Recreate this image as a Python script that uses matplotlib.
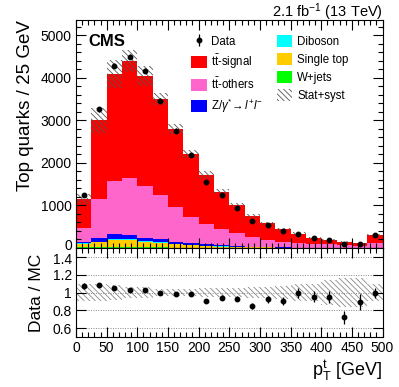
import numpy as np
import matplotlib
matplotlib.use("Agg")
import matplotlib.pyplot as plt
from matplotlib.patches import Patch
from matplotlib.ticker import MultipleLocator, FixedLocator
from matplotlib.transforms import ScaledTranslation

plt.rcParams['font.family'] = ['Liberation Sans', 'DejaVu Sans']
plt.rcParams['mathtext.fontset'] = 'custom'
plt.rcParams['mathtext.rm'] = 'Liberation Sans'
plt.rcParams['mathtext.it'] = 'Liberation Sans:italic'
plt.rcParams['mathtext.bf'] = 'Liberation Sans:bold'
plt.rcParams['hatch.linewidth'] = 0.6

# ---- data ----
bin_edges = list(range(0, 525, 25))
w_jets     = [35, 30, 25, 22, 18, 14, 10, 8, 6, 5, 4, 3, 2, 2, 1, 1, 1, 1, 0.5, 1]
single_top = [70, 110, 170, 175, 130, 115, 85, 55, 40, 30, 20, 15, 10, 8, 5, 4, 3, 2, 2, 4]
diboson    = [5, 10, 15, 15, 12, 10, 8, 6, 5, 4, 3, 2, 2, 1, 1, 1, 1, 0.5, 0.5, 1]
z_gamma    = [30, 90, 130, 100, 75, 80, 40, 50, 40, 30, 20, 12, 8, 5, 4, 3, 2, 2, 1, 3]
tt_others  = [338, 913, 1236, 1323, 1219, 1038, 822, 618, 474, 385, 311, 234, 166, 135, 115, 92, 80, 60, 47, 120]
tt_signal  = [675, 1847, 2518, 2760, 2588, 2243, 1828, 1475, 1153, 871, 646, 494, 392, 289, 212, 143, 103, 76, 60, 176]
data       = [1235, 3265, 4290, 4500, 4170, 3465, 2760, 2175, 1555, 1250, 935, 643, 535, 400, 335, 232, 180, 102, 99, 303]
rel_unc    = [0.10, 0.10, 0.08, 0.06, 0.06, 0.04, 0.04, 0.04, 0.05, 0.05, 0.05, 0.06, 0.06, 0.07, 0.09, 0.10, 0.14, 0.16, 0.16, 0.10]

colors = {
    'tt_signal': '#FF0000',
    'tt_others': '#FF66CC',
    'z_gamma': '#0000FF',
    'diboson': '#00FFFF',
    'single_top': '#FFCC00',
    'w_jets': '#00FF00',
}
HATCH = '\\' * 6
HCOL = '#555555'

edges = np.array(bin_edges, dtype=float)
left = edges[:-1]
width = np.diff(edges)
centers = left + width / 2

fig = plt.figure(figsize=(3.99, 3.87), dpi=100)
ax = fig.add_axes([76/399, 1-248/387, (382.5-76)/399, 228/387])
rax = fig.add_axes([76/399, 1-337/387, (382.5-76)/399, 89/387])

stack = [
    (w_jets, 'w_jets'),
    (single_top, 'single_top'),
    (diboson, 'diboson'),
    (z_gamma, 'z_gamma'),
    (tt_others, 'tt_others'),
    (tt_signal, 'tt_signal'),
]
bottom = np.zeros(len(left))
for vals, key in stack:
    v = np.array(vals, dtype=float)
    ax.bar(left, v, width=width, bottom=bottom, align='edge',
           color=colors[key], linewidth=0)
    bottom = bottom + v
total = bottom
unc = np.array(rel_unc)

ax.bar(left, 2*total*unc, width=width, bottom=total*(1-unc), align='edge',
       fill=False, hatch=HATCH, edgecolor=HCOL, linewidth=0)

d = np.array(data, dtype=float)
derr = np.sqrt(d)
data_handle = ax.errorbar(centers, d, yerr=derr, fmt='o', color='black', ms=3.2,
                          elinewidth=0.9, capsize=0)

ax.set_xlim(0, 500)
ax.set_ylim(0, 5360)
ax.yaxis.set_major_locator(FixedLocator([0, 1000, 2000, 3000, 4000, 5000]))
ax.yaxis.set_minor_locator(MultipleLocator(200))
ax.xaxis.set_major_locator(MultipleLocator(50))
ax.xaxis.set_minor_locator(MultipleLocator(10))
ax.tick_params(axis='x', labelbottom=False)

for a in (ax, rax):
    a.tick_params(which='both', direction='in', top=True, right=True,
                  labelsize=10, width=0.8, pad=3)
    a.tick_params(which='major', length=7)
    a.tick_params(which='minor', length=3.5)
    for s in a.spines.values():
        s.set_linewidth(0.8)

ax.set_ylabel('Top quarks / 25 GeV', fontsize=13.5, loc='top', labelpad=5)

ax.text(0.04, 0.94, 'CMS', transform=ax.transAxes, fontsize=12,
        fontweight='bold', va='top', ha='left')
fig.text(382.5/399, 1-17/387, r'2.1 fb$^{-1}$ (13 TeV)', ha='right',
         va='baseline', fontsize=10.5)

# legend
handles = [
    data_handle,
    Patch(facecolor=colors['tt_signal'], edgecolor='none'),
    Patch(facecolor=colors['tt_others'], edgecolor='none'),
    Patch(facecolor=colors['z_gamma'], edgecolor='none'),
    Patch(facecolor=colors['diboson'], edgecolor='none'),
    Patch(facecolor=colors['single_top'], edgecolor='none'),
    Patch(facecolor=colors['w_jets'], edgecolor='none'),
    Patch(facecolor='none', edgecolor=HCOL, hatch=HATCH, linewidth=0),
]
labels = ['Data', r'$\mathrm{t\bar{t}}$-signal', r'$\mathrm{t\bar{t}}$-others',
          r'Z/$\gamma^{*}\!\rightarrow l^{+}l^{-}$',
          'Diboson', 'Single top', 'W+jets', 'Stat+syst']
leg = ax.legend(handles, labels, ncol=2, loc='upper left',
                bbox_to_anchor=(0.36, 0.955), frameon=False, fontsize=8.3,
                handlelength=1.35, handleheight=1.2, handletextpad=0.4,
                columnspacing=1.2, labelspacing=0.45, borderaxespad=0)

# ratio panel
ratio = d / total
rerr = derr / total
rax.bar(left, 2*unc, width=width, bottom=1-unc, align='edge',
        fill=False, hatch=HATCH, edgecolor='#888888', linewidth=0)
for yv in [0.6, 0.8, 1.0, 1.2, 1.4]:
    rax.axhline(yv, color='#888888', lw=0.7, ls=(0, (1, 1.5)), zorder=0)
rax.errorbar(centers, ratio, yerr=rerr, fmt='o', color='black', ms=3.2,
             elinewidth=0.9, capsize=0)
rax.set_xlim(0, 500)
rax.set_ylim(0.5, 1.5)
rax.yaxis.set_major_locator(FixedLocator([0.6, 0.8, 1.0, 1.2, 1.4]))
rax.set_yticklabels(['0.6', '0.8', '1', '1.2', '1.4'])
rax.yaxis.set_minor_locator(MultipleLocator(0.05))
rax.xaxis.set_major_locator(MultipleLocator(50))
rax.xaxis.set_minor_locator(MultipleLocator(10))
rax.tick_params(which='minor', axis='y', length=0)
rax.set_ylabel('Data / MC', fontsize=12.5, labelpad=6)
rax.set_xlabel(r'$\mathrm{p}_{\mathrm{T}}^{\mathrm{t}}$ [GeV]', fontsize=13,
               loc='right', labelpad=2)

# nudge the touching "0" / "1.4" labels apart slightly
t0 = ax.yaxis.get_major_ticks()[0].label1
t0.set_transform(t0.get_transform() + ScaledTranslation(0, 2.5/72, fig.dpi_scale_trans))
t14 = rax.yaxis.get_major_ticks()[-1].label1
t14.set_transform(t14.get_transform() + ScaledTranslation(0, -1.5/72, fig.dpi_scale_trans))

fig.savefig('out.png', dpi=100)
